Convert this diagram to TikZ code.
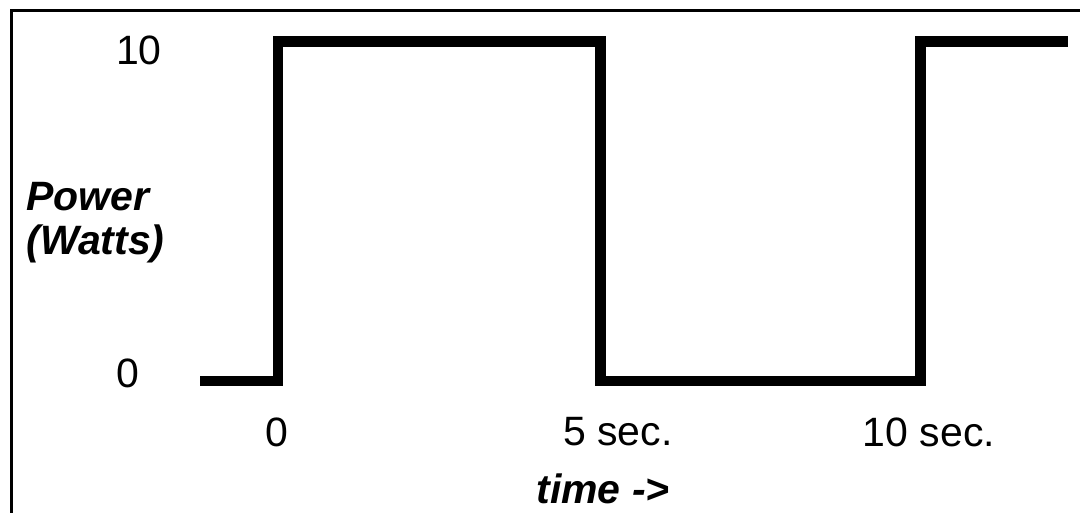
\documentclass[tikz,border=0pt]{standalone}
\usepackage{fontspec}
\setmainfont{Liberation Sans}
\begin{document}
\begin{tikzpicture}[x=0.5pt,y=-0.5pt,
  lbl/.style={inner sep=0pt,anchor=base,font=\fontsize{20.5}{24}\selectfont},
  axlbl/.style={lbl,font=\fontsize{20.5}{24}\selectfont\bfseries\itshape},
  wave/.style={line width=5.3pt,line join=miter,line cap=butt},
  frameline/.style={line width=1.5pt}]
\useasboundingbox (0,0) rectangle (1080,513);
\fill[white] (0,0) rectangle (1080,513);
% frame (only left and top sides visible)
\coordinate (fbl) at (11,520);
\coordinate (ftl) at (11,11);
\coordinate (ftr) at (1090,11);
\draw[frameline] (fbl) -- (ftl) -- (ftr);
% waveform
\coordinate (w0) at (200,381);
\coordinate (w1) at (278,381);
\coordinate (w2) at (278,41.5);
\coordinate (w3) at (600.5,41.5);
\coordinate (w4) at (600.5,381);
\coordinate (w5) at (920.5,381);
\coordinate (w6) at (920.5,41.5);
\coordinate (w7) at (1068,41.5);
\draw[wave] (w0) -- (w1) -- (w2) -- (w3) -- (w4) -- (w5) -- (w6) -- (w7);
% labels
\node[lbl] (y10) at (139,65) {10};
\node[lbl] (y0) at (127.5,387) {0};
\node[lbl] (x0) at (277,446) {0};
\node[lbl] (x5) at (618,445) {5 sec.};
\node[lbl] (x10) at (929,446) {10 sec.};
\node[axlbl] (xt) at (603,503) {time ->};
\node[axlbl,anchor=base west] (pw1) at (26,211) {Power};
\node[axlbl,anchor=base west] (pw2) at (26,255) {(Watts)};
\end{tikzpicture}
\end{document}
